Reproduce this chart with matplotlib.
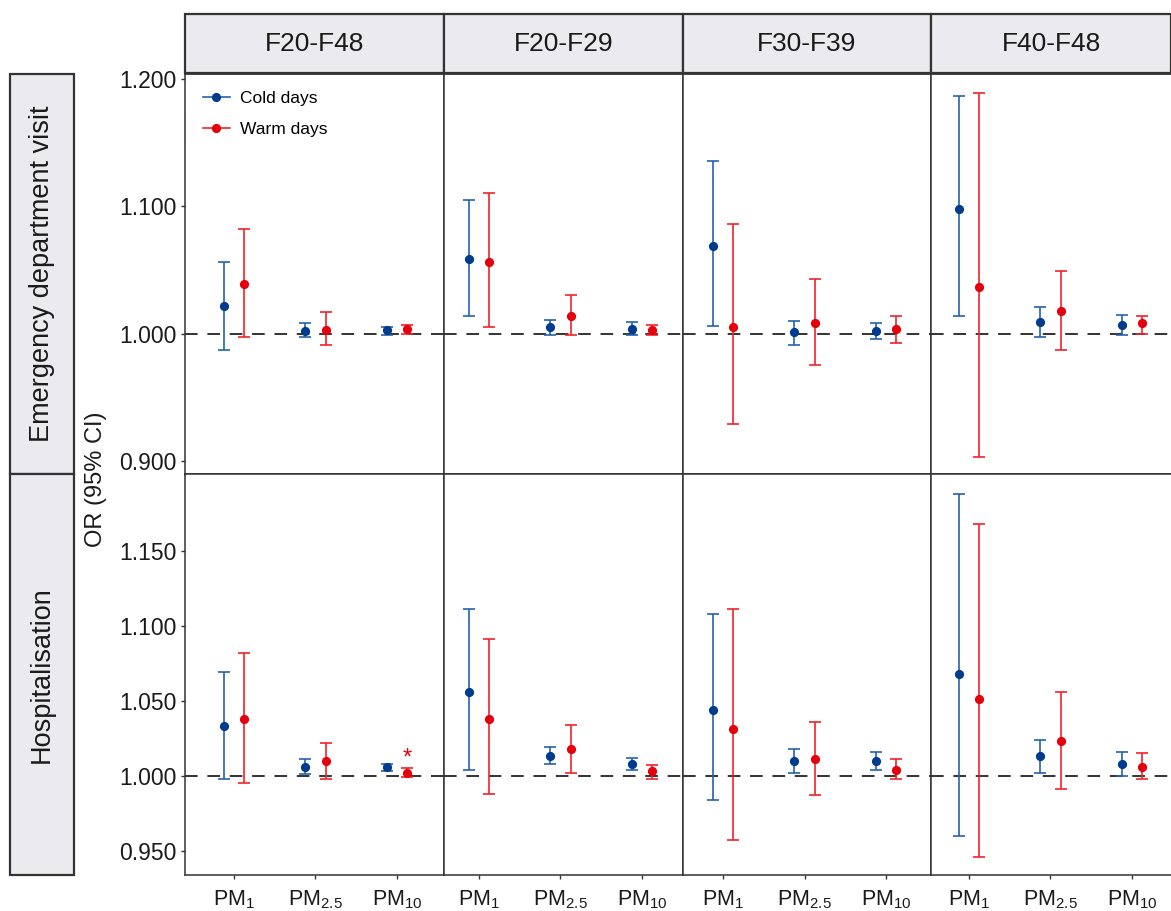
import matplotlib
matplotlib.use("Agg")
import matplotlib.pyplot as plt
from matplotlib.lines import Line2D
from matplotlib.patches import Rectangle
import numpy as np

plt.rcParams['font.family'] = ['Liberation Sans', 'DejaVu Sans']
plt.rcParams['mathtext.fontset'] = 'custom'
plt.rcParams['mathtext.rm'] = 'Liberation Sans'
plt.rcParams['mathtext.it'] = 'Liberation Sans'

# ---------------- data ----------------
groups = ["F20-F48", "F20-F29", "F30-F39", "F40-F48"]
outcomes = ["Emergency department visit", "Hospitalisation"]
pollutants = [r"PM$_{1}$", r"PM$_{2.5}$", r"PM$_{10}$"]
seasons = ["Cold days", "Warm days"]

# Emergency department visit, cold days (rows = groups, cols = PM1, PM2.5, PM10)
ed_cold_or = [[1.022, 1.002, 1.003], [1.059, 1.005, 1.004], [1.069, 1.001, 1.002], [1.098, 1.009, 1.007]]
ed_cold_lo = [[0.987, 0.997, 0.999], [1.014, 0.999, 0.999], [1.006, 0.991, 0.996], [1.014, 0.997, 0.999]]
ed_cold_hi = [[1.056, 1.008, 1.005], [1.105, 1.011, 1.009], [1.136, 1.010, 1.008], [1.187, 1.021, 1.015]]
# Emergency department visit, warm days
ed_warm_or = [[1.039, 1.003, 1.004], [1.056, 1.014, 1.003], [1.005, 1.008, 1.004], [1.037, 1.018, 1.008]]
ed_warm_lo = [[0.997, 0.991, 1.000], [1.005, 0.999, 0.999], [0.929, 0.975, 0.993], [0.903, 0.987, 1.000]]
ed_warm_hi = [[1.082, 1.017, 1.007], [1.111, 1.030, 1.007], [1.086, 1.043, 1.014], [1.189, 1.049, 1.014]]
# Hospitalisation, cold days
ho_cold_or = [[1.033, 1.006, 1.006], [1.056, 1.013, 1.008], [1.044, 1.010, 1.010], [1.068, 1.013, 1.008]]
ho_cold_lo = [[0.998, 1.001, 1.003], [1.004, 1.008, 1.004], [0.984, 1.002, 1.004], [0.960, 1.002, 1.000]]
ho_cold_hi = [[1.069, 1.011, 1.008], [1.111, 1.019, 1.012], [1.108, 1.018, 1.016], [1.188, 1.024, 1.016]]
# Hospitalisation, warm days
ho_warm_or = [[1.038, 1.010, 1.002], [1.038, 1.018, 1.003], [1.031, 1.011, 1.004], [1.051, 1.023, 1.006]]
ho_warm_lo = [[0.995, 0.998, 0.999], [0.988, 1.002, 0.998], [0.957, 0.987, 0.998], [0.946, 0.991, 0.998]]
ho_warm_hi = [[1.082, 1.022, 1.005], [1.091, 1.034, 1.007], [1.111, 1.036, 1.011], [1.168, 1.056, 1.015]]

# significance marker: (outcome index, group index, pollutant index, season index)
signif = [(1, 0, 2, 1)]

# --------------- styling ---------------
line_cols = ["#2462ad", "#f2222a"]
mark_cols = ["#003b8e", "#e5000b"]
dark = "#333333"
strip_fc = "#EBEBEF"

W, H = 1171, 911
fig = plt.figure(figsize=(W / 100, H / 100), dpi=100)

col_px = [(185, 444), (444, 683), (683, 931), (931, 1171)]
col_xlim = [(0.399, 3.577), (0.571, 3.503), (0.509, 3.552), (0.534, 3.479)]
row_px = [(73, 474), (474, 875)]
row_ylim = [(0.8896, 1.205), (0.934, 1.2011)]
row_ticks = [[0.9, 1.0, 1.1, 1.2], [0.95, 1.0, 1.05, 1.1, 1.15]]

data = [
    [(ed_cold_or, ed_cold_lo, ed_cold_hi), (ed_warm_or, ed_warm_lo, ed_warm_hi)],
    [(ho_cold_or, ho_cold_lo, ho_cold_hi), (ho_warm_or, ho_warm_lo, ho_warm_hi)],
]

dodge = [-0.125, 0.125]
x = np.arange(1, len(pollutants) + 1)


def frac_rect(x0, x1, y0, y1):
    return [x0 / W, 1 - y1 / H, (x1 - x0) / W, (y1 - y0) / H]


axes = {}
for r in range(2):
    for c in range(4):
        ax = fig.add_axes(frac_rect(col_px[c][0], col_px[c][1], row_px[r][0], row_px[r][1]))
        axes[(r, c)] = ax
        ax.set_xlim(*col_xlim[c])
        ax.set_ylim(*row_ylim[r])
        ax.axhline(1.0, color=dark, lw=1.4, linestyle=(0, (6.5, 5)), zorder=1)
        for s in range(2):
            orv, lo, hi = data[r][s]
            yv = np.array(orv[c])
            lov = np.array(lo[c])
            hiv = np.array(hi[c])
            ax.errorbar(x + dodge[s], yv, yerr=[yv - lov, hiv - yv], fmt='none',
                        ecolor=line_cols[s], elinewidth=1.2, capsize=4.6, capthick=1.2, zorder=2)
            ax.plot(x + dodge[s], yv, 'o', color=mark_cols[s], ms=5.6, mec=mark_cols[s], zorder=3)
        for (rr, cc, pp, ss) in signif:
            if rr == r and cc == c:
                val_hi = data[rr][ss][2][cc][pp]
                ax.text(x[pp] + dodge[ss], val_hi + 0.0068, "*", color=mark_cols[ss],
                        ha='center', va='center', fontsize=17)
        ax.set_yticks(row_ticks[r])
        ax.set_xticks(x)
        for sp in ax.spines.values():
            sp.set_color(dark)
            sp.set_linewidth(1.1)
        if c == 3:
            ax.spines['right'].set_visible(False)
        if r == 0:
            ax.spines['top'].set_linewidth(2.0)
            ax.spines['bottom'].set_linewidth(2.0)
        ax.tick_params(axis='both', colors=dark, length=3, width=1, labelcolor="#1a1a1a")
        if c == 0:
            ax.set_yticklabels([f"{v:.3f}" for v in row_ticks[r]], fontsize=16.5)
            ax.tick_params(axis='y', pad=3)
        else:
            ax.tick_params(axis='y', left=False, labelleft=False)
        if r == 1:
            ax.set_xticklabels(pollutants, fontsize=15.5)
            ax.tick_params(axis='x', pad=7)
        else:
            ax.tick_params(axis='x', bottom=False, labelbottom=False)

# legend
handles = [Line2D([0], [0], color=line_cols[i], lw=1.2, marker='o', ms=5.6,
                  mfc=mark_cols[i], mec=mark_cols[i]) for i in range(2)]
axes[(0, 0)].legend(handles, seasons, loc='upper left', bbox_to_anchor=(0.068, 0.955),
                    frameon=False, fontsize=12.5, handlelength=1.55, handletextpad=0.6,
                    labelspacing=0.9, borderpad=0, borderaxespad=0)

# top strips
for c in range(4):
    x0, x1 = col_px[c]
    r = Rectangle((x0 / W, 1 - 73 / H), (x1 - x0) / W, (73 - 14) / H, transform=fig.transFigure,
                  facecolor=strip_fc, edgecolor=dark, lw=1.6, zorder=0)
    fig.patches.append(r)
    fig.text((x0 + x1) / 2 / W, 1 - 44 / H, groups[c], ha='center', va='center',
             fontsize=19, color="#1a1a1a")

# left strips
for rr in range(2):
    y0, y1 = row_px[rr]
    if rr == 0:
        y0 = 74
    rect = Rectangle((10 / W, 1 - y1 / H), (74 - 10) / W, (y1 - y0) / H, transform=fig.transFigure,
                     facecolor=strip_fc, edgecolor=dark, lw=1.6, zorder=0)
    fig.patches.append(rect)
    fig.text(42 / W, 1 - (y0 + y1) / 2 / H, outcomes[rr], ha='center', va='center',
             rotation=90, fontsize=19.5, color="#1a1a1a")

# y label
fig.text(96 / W, 1 - 479 / H, "OR (95% CI)", ha='center', va='center', rotation=90,
         fontsize=17, color="#1a1a1a")

fig.savefig("out.png", dpi=100)
